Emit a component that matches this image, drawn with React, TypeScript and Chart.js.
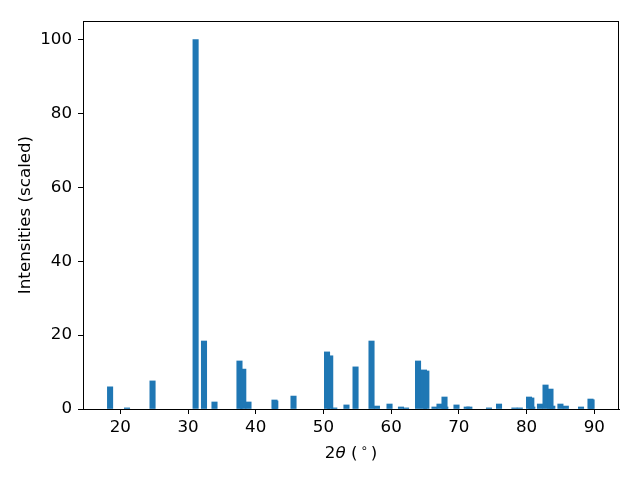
import React, { useEffect, useRef } from "react";
import { Chart, registerables } from "chart.js";

Chart.register(...registerables);

// 2θ peak positions (degrees) and scaled intensities
const THETA = [
  18.49, 20.99, 24.76, 31.12, 32.36, 33.91, 37.6, 38.16, 38.93, 42.77, 42.89,
  45.58, 50.53, 51.0, 51.6, 53.4, 54.74, 57.1, 57.9, 59.76, 61.45, 62.2,
  63.97, 64.85, 65.2, 66.4, 67.14, 67.88, 68.0, 69.65, 71.16, 71.55, 74.45,
  75.93, 78.2, 79.0, 80.36, 80.7, 80.85, 81.98, 82.8, 83.53, 83.8, 85.0,
  85.8, 88.04, 89.44, 89.6,
];
const INTENSITY = [
  6.0, 0.3, 7.6, 100, 18.4, 1.9, 13.0, 10.8, 1.9, 2.44, 2.17,
  3.5, 15.45, 14.4, 0.3, 1.1, 11.4, 18.4, 0.8, 1.35, 0.55, 0.3,
  13.0, 10.57, 10.3, 0.55, 1.35, 3.25, 0.55, 1.1, 0.55, 0.55, 0.3,
  1.35, 0.3, 0.3, 3.25, 3.0, 0.55, 1.35, 6.5, 5.4, 0.8, 1.35,
  0.8, 0.55, 2.7, 2.5,
];
const X_TICKS = [20, 30, 40, 50, 60, 70, 80, 90];
const Y_TICKS = [0, 20, 40, 60, 80, 100];
const X_TITLE_PARTS = ["2", "θ", " (", "∘", ")"];
const Y_TITLE = "Intensities (scaled)";

const X_MIN = 14.49;
const X_MAX = 93.65;
const Y_MAX = 105;
const BAR_WIDTH_DEG = 0.8;

const W = 640;
const H = 480;
const AXIS_LEFT = 83;
const AXIS_RIGHT = 619;
const AXIS_TOP = 21;
const AXIS_BOTTOM = 409;

const FAMILY = "'DejaVu Sans', sans-serif";
const FS = 16.7;

export default function App() {
  const ref = useRef<HTMLCanvasElement | null>(null);

  useEffect(() => {
    if (!ref.current) return;
    const plotWidth = AXIS_RIGHT - AXIS_LEFT;
    const barPx = (BAR_WIDTH_DEG * plotWidth) / (X_MAX - X_MIN);

    const frame = {
      id: "frame",
      afterDraw(chart: any) {
        const { ctx, chartArea } = chart;
        ctx.save();
        ctx.strokeStyle = "#000";
        ctx.lineWidth = 1;
        ctx.strokeRect(
          Math.round(chartArea.left) + 0.5,
          Math.round(chartArea.top) + 0.5,
          Math.round(chartArea.right - chartArea.left) - 1,
          Math.round(chartArea.bottom - chartArea.top)
        );
        ctx.restore();
      },
    };

    // x-axis title drawn as mixed text: "2" + italic θ + " (" + superscript ∘ + ")"
    const xTitle = {
      id: "xTitle",
      afterDraw(chart: any) {
        const { ctx, chartArea } = chart;
        const normal = `${FS}px ${FAMILY}`;
        const italic = `italic ${FS}px ${FAMILY}`;
        const small = `${FS * 0.7}px ${FAMILY}`;
        const styles = [
          { font: normal, dy: 0, pl: 0, pr: 0 },
          { font: italic, dy: 0, pl: 0, pr: 0 },
          { font: normal, dy: 0, pl: 0, pr: 0 },
          { font: small, dy: -6.5, pl: 3, pr: 3 },
          { font: normal, dy: 0, pl: 0, pr: 0 },
        ];
        ctx.save();
        ctx.fillStyle = "#000";
        ctx.textBaseline = "alphabetic";
        ctx.textAlign = "left";
        const widths = X_TITLE_PARTS.map((t, i) => {
          ctx.font = styles[i].font;
          return ctx.measureText(t).width + styles[i].pl + styles[i].pr;
        });
        const total = widths.reduce((a, b) => a + b, 0);
        let x = (chartArea.left + chartArea.right) / 2 - total / 2;
        const baseline = 458;
        X_TITLE_PARTS.forEach((t, i) => {
          ctx.font = styles[i].font;
          ctx.fillText(t, x + styles[i].pl, baseline + styles[i].dy);
          x += widths[i];
        });
        ctx.restore();
      },
    };

    const chart = new Chart(ref.current, {
      type: "bar",
      data: {
        datasets: [
          {
            data: THETA.map((t, i) => ({ x: t, y: INTENSITY[i] })),
            backgroundColor: "#1f77b4",
            borderWidth: 0,
            barThickness: barPx,
          },
        ],
      },
      options: {
        animation: false,
        responsive: false,
        devicePixelRatio: 1,
        layout: {
          padding: { left: 0, top: AXIS_TOP, right: W - AXIS_RIGHT, bottom: 0 },
        },
        plugins: {
          legend: { display: false },
          tooltip: { enabled: false },
        },
        scales: {
          x: {
            type: "linear",
            min: X_MIN,
            max: X_MAX,
            offset: false,
            afterBuildTicks: (s: any) => {
              s.ticks = X_TICKS.map((v) => ({ value: v }));
            },
            afterFit: (s: any) => {
              s.height = H - AXIS_BOTTOM;
            },
            grid: {
              offset: false,
              drawOnChartArea: false,
              drawTicks: true,
              tickLength: 5,
              color: "#000",
            },
            border: { display: true, color: "#000" },
            ticks: {
              color: "#000",
              padding: 4,
              maxRotation: 0,
              autoSkip: false,
              font: { family: FAMILY, size: FS },
              callback: (v: any) => String(v),
            },
            title: { display: false },
          },
          y: {
            type: "linear",
            min: 0,
            max: Y_MAX,
            afterBuildTicks: (s: any) => {
              s.ticks = Y_TICKS.map((v) => ({ value: v }));
            },
            afterFit: (s: any) => {
              s.width = AXIS_LEFT;
            },
            grid: {
              offset: false,
              drawOnChartArea: false,
              drawTicks: true,
              tickLength: 5,
              color: "#000",
            },
            border: { display: true, color: "#000" },
            ticks: {
              color: "#000",
              padding: 6,
              autoSkip: false,
              font: { family: FAMILY, size: FS },
              callback: (v: any) => String(v),
            },
            title: {
              display: true,
              text: Y_TITLE,
              color: "#000",
              font: { family: FAMILY, size: FS },
              padding: { top: 16, bottom: 0 },
            },
          },
        },
      },
      plugins: [frame, xTitle],
    } as any);

    return () => chart.destroy();
  }, []);

  return (
    <div style={{ position: "absolute", left: 0, top: 0, width: W, height: H, background: "#fff" }}>
      <canvas ref={ref} width={W} height={H} />
    </div>
  );
}
